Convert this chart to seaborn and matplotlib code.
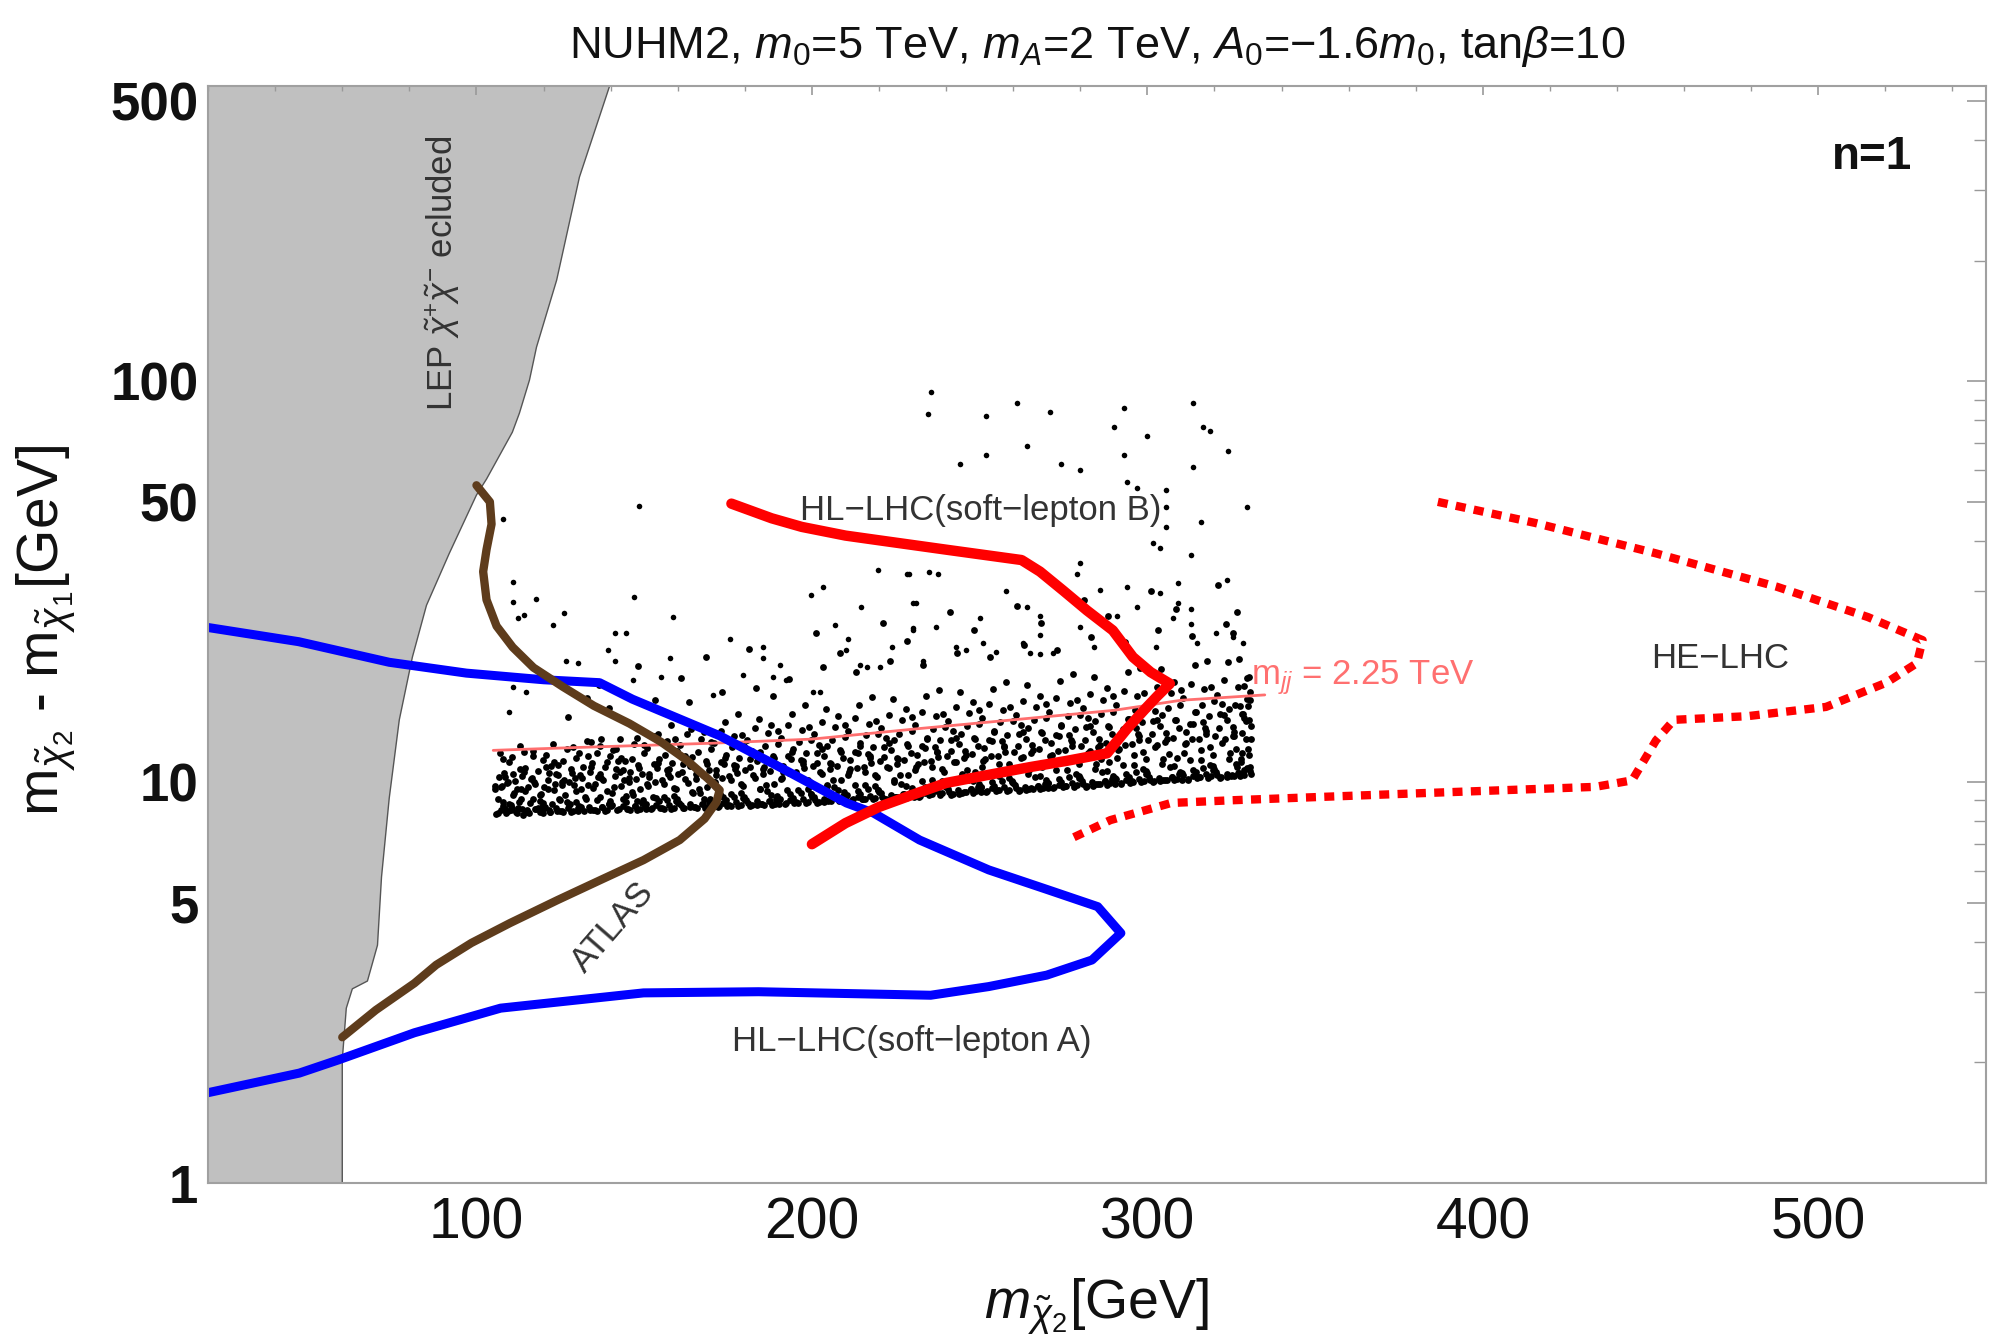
import matplotlib
matplotlib.use("Agg")
import matplotlib.pyplot as plt
import seaborn as sns
import pandas as pd
from matplotlib.ticker import FixedLocator, NullFormatter

# ---------------- data ----------------
x_major = [100, 200, 300, 400, 500]
x_minor = [20, 40, 60, 80, 120, 140, 160, 180, 220, 240, 260, 280, 320, 340, 360,
           380, 420, 440, 460, 480, 520, 540]
y_major = [1, 5, 10, 50, 100, 500]
y_tick_labels = ["1", "5", "10", "50", "100", "500"]
y_minor = [2, 3, 4, 6, 7, 8, 9, 20, 30, 40, 60, 70, 80, 90, 200, 300, 400]

# LEP excluded region boundary (bottom -> top)
lep_x = [60, 60, 61.2, 63, 67.5, 70.5, 71.7, 74, 77, 80.9, 85.1, 91.9, 100, 103, 110.7,
         112.8, 115.8, 117.9, 123.9, 130.7, 139.7]
lep_y = [1, 2.03, 2.73, 3.05, 3.19, 3.92, 5.8, 9.12, 14.3, 20.5, 27.6, 37.2, 52, 57, 74.6,
         83.2, 100.6, 121.6, 178.6, 323, 545]

# HL-LHC (soft-lepton A), blue
blue_x = [20, 47, 74, 97, 120, 136.7, 146.5, 172.5, 190.4, 210.3, 218.4, 232.1, 252.7, 270,
          285.2, 292.1, 283.5, 270, 252.7, 235.4, 184.1, 149.8, 107.2, 81.5, 59, 47.2, 20]
blue_y = [24.3, 22.4, 19.9, 18.7, 18.0, 17.7, 16.1, 13.05, 10.9, 8.87, 8.37, 7.17, 6.04, 5.4,
          4.89, 4.2, 3.6, 3.3, 3.09, 2.94, 3.0, 2.98, 2.73, 2.37, 2.03, 1.88, 1.68]

# ATLAS, brown
atlas_x = [100, 104, 104.5, 103, 102, 103, 106, 110.8, 117, 125.7, 135, 145.6, 155, 162.6,
           169, 172.5, 171.5, 168, 160.6, 149.8, 137, 124.2, 110, 98.5, 88, 81.5, 70, 60]
atlas_y = [55, 50, 44, 38, 33.5, 28.5, 24.5, 21.7, 19.3, 17.3, 15.5, 14.0, 12.6, 11.35,
           10.2, 9.55, 8.9, 8.1, 7.17, 6.39, 5.7, 5.08, 4.45, 3.97, 3.5, 3.15, 2.7, 2.31]

# HL-LHC (soft-lepton B), red
slb_x = [176, 188, 197, 210, 220, 240, 262.5, 268, 275, 282, 289.7, 295.7, 301, 306.7, 303,
         299.9, 294, 288, 276, 265, 252, 240, 230, 220, 210, 200]
slb_y = [49.5, 45.5, 43.3, 41.2, 40.1, 38.0, 35.8, 33.5, 30.0, 26.8, 23.9, 20.5, 18.8, 17.6,
         16.4, 15.4, 13.6, 11.8, 11.3, 10.9, 10.4, 9.95, 9.3, 8.67, 7.9, 7.0]

# HE-LHC, red dotted
he_x = [386.6, 415.6, 451.6, 487.7, 514.8, 531.1, 529.4, 520.3, 502.3, 478.8, 457, 451.6,
        444.5, 433.5, 379.5, 325.3, 307.1, 289, 276.3]
he_y = [50, 44.3, 37.2, 30.7, 25.8, 22.6, 19.8, 17.7, 15.4, 14.6, 14.3, 12.7, 10.1, 9.73,
        9.37, 9.01, 8.87, 8.04, 7.17]

# m_jj = 2.25 TeV contour, thin light red
mjj_x = [105, 130, 170, 200, 232, 260, 290, 310, 335]
mjj_y = [12.0, 12.2, 12.5, 12.8, 13.6, 14.3, 15.1, 16.0, 16.5]

# scan points: dense band
band_pts = [
 (106.5,8.35),(108,8.9),(109.5,8.45),(111,9.3),(112.5,8.6),(114,8.3),(107.2,9.7),(110.3,8.75),(113.4,9.05),(115,8.5),
 (106.8,10.3),(109,9.95),(111.8,8.4),(113,10.8),(114.6,9.5),(107.8,11.4),(110.8,10.5),(112.2,9.6),(108.6,8.55),(114.2,11.9),
 (115.5,8.4),(117,9.1),(118.4,8.6),(119.8,8.35),(121.2,9.6),(122.6,8.8),(124,8.45),(116.3,10.2),(117.8,8.55),(119.2,9.35),
 (120.6,10.9),(122,8.4),(123.4,9.9),(124.8,9.0),(116.8,11.6),(118.9,8.95),(121.5,8.5),(123,11.2),(120.1,9.75),(124.3,10.4),
 (125.4,8.45),(126.9,8.9),(128.3,8.4),(129.7,9.5),(131.1,8.65),(132.5,9.2),(133.9,8.5),(126.2,10.1),(127.6,8.75),(129,9.85),
 (130.4,8.45),(134.6,9.65),(131.8,10.9),(133.2,11.6),(125.9,11.3),(128.7,12.2),(130.9,10.4),(134.1,12.6),(127.3,14.5),(132.9,16.2),
 (135.3,8.5),(136.8,9.2),(138.2,8.45),(139.6,8.8),(141,9.7),(142.4,8.55),(143.8,9.1),(136.1,10.3),(137.5,8.65),(140.3,9.4),
 (142.9,10.6),(144.5,8.9),(138.9,11.2),(141.7,12.1),(135.8,11.8),(143.2,11.5),(137.2,12.8),(144.1,10.1),(139.4,15.3),(136.4,17.5),
 (145.2,8.55),(146.6,9.3),(148,8.5),(149.4,8.85),(150.8,9.9),(152.2,8.6),(153.6,9.15),(145.9,10.6),(147.3,8.7),(148.7,9.6),
 (151.5,10.3),(154.4,8.95),(146.4,11.4),(149.9,12.4),(152.8,11.1),(154.1,13.2),(147.8,12.9),(150.4,8.55),(153.1,16.0),(148.3,19.5),
 (155.3,8.6),(156.7,9.0),(158.1,8.55),(159.5,9.6),(160.9,8.75),(162.3,10.2),(163.7,8.65),(155.9,9.9),(157.4,10.8),(158.8,9.25),
 (161.6,8.6),(164.4,9.45),(156.2,11.7),(159.1,12.8),(162.9,11.4),(164.1,13.6),(157.9,13.9),(160.2,10.5),(163.3,15.8),(161.1,18.2),
 (165.2,8.65),(166.6,9.4),(168,8.6),(169.4,8.9),(170.8,10.0),(172.2,8.7),(173.6,9.2),(165.8,10.7),(167.3,8.8),(168.7,9.7),
 (171.5,10.4),(174.4,9.0),(166.1,11.9),(169.9,12.6),(172.8,11.2),(174.1,14.1),(167.9,13.3),(170.3,8.65),(173.2,16.8),(168.4,20.5),
 (175.3,8.75),(176.7,9.2),(178.1,8.7),(179.5,9.8),(180.9,8.85),(182.3,10.4),(183.7,8.75),(175.9,10.1),(177.4,11.0),(178.8,9.4),
 (181.6,8.7),(184.4,9.6),(176.2,12.2),(179.1,13.1),(182.9,11.8),(184.1,14.4),(177.9,14.8),(180.2,10.7),(183.3,17.2),(181.1,21.5),
 (185.2,8.8),(186.6,9.5),(188,8.75),(189.4,9.05),(190.8,10.2),(192.2,8.85),(193.6,9.35),(185.8,10.9),(187.3,8.95),(188.7,9.9),
 (191.5,10.6),(194.4,9.15),(186.1,12.3),(189.9,13.4),(192.8,11.6),(194.1,14.8),(187.9,13.9),(190.3,8.8),(193.2,18.1),(188.4,16.4),
 (195.3,8.9),(196.7,9.4),(198.1,8.85),(199.5,10.0),(200.9,9.0),(202.3,10.6),(203.7,8.9),(195.9,10.3),(197.4,11.3),(198.8,9.6),
 (201.6,8.85),(204.4,9.8),(196.2,12.6),(199.1,13.7),(202.9,12.1),(204.1,15.2),(197.9,15.6),(200.2,11.0),(203.3,19.4),(201.1,23.5),
 (205.2,9.0),(206.6,9.7),(208,8.95),(209.4,9.25),(210.8,10.4),(212.2,9.05),(213.6,9.5),(205.8,11.1),(207.3,9.15),(208.7,10.1),
 (211.5,10.8),(214.4,9.35),(206.1,12.7),(209.9,13.9),(212.8,11.9),(214.1,15.6),(207.9,14.6),(210.3,9.0),(213.2,18.8),(208.4,21.0),
 (215.3,9.1),(216.7,9.6),(218.1,9.05),(219.5,10.3),(220.9,9.2),(222.3,10.9),(223.7,9.1),(215.9,10.6),(217.4,11.6),(218.8,9.8),
 (221.6,9.05),(224.4,10.0),(216.2,13.1),(219.1,14.2),(222.9,12.5),(224.1,16.1),(217.9,16.3),(220.2,11.3),(223.3,20.1),(221.1,25.0),
 (225.2,9.2),(226.6,9.9),(228,9.15),(229.4,9.45),(230.8,10.7),(232.2,9.25),(233.6,9.75),(225.8,11.4),(227.3,9.35),(228.7,10.4),
 (231.5,11.1),(234.4,9.55),(226.1,13.2),(229.9,14.5),(232.8,12.3),(234.1,16.4),(227.9,15.2),(230.3,9.2),(233.2,19.6),(228.4,22.5),
 (235.3,9.35),(236.7,9.85),(238.1,9.3),(239.5,10.6),(240.9,9.45),(242.3,11.2),(243.7,9.35),(235.9,10.9),(237.4,11.9),(238.8,10.05),
 (241.6,9.3),(244.4,10.3),(236.2,13.6),(239.1,14.8),(242.9,12.9),(244.1,16.8),(237.9,17.0),(240.2,11.6),(243.3,21.0),(241.1,26.5),
 (245.2,9.45),(246.6,10.1),(248,9.4),(249.4,9.7),(250.8,10.9),(252.2,9.5),(253.6,10.0),(245.8,11.7),(247.3,9.6),(248.7,10.6),
 (251.5,11.4),(254.4,9.8),(246.1,13.8),(249.9,15.1),(252.8,12.7),(254.1,17.1),(247.9,15.8),(250.3,9.45),(253.2,20.5),(248.4,24.0),
 (255.3,9.55),(256.7,10.05),(258.1,9.5),(259.5,10.8),(260.9,9.65),(262.3,11.5),(263.7,9.55),(255.9,11.1),(257.4,12.2),(258.8,10.25),
 (261.6,9.5),(264.4,10.5),(256.2,14.1),(259.1,15.4),(262.9,13.3),(264.1,17.5),(257.9,17.8),(260.2,11.9),(263.3,22.0),(261.1,27.5),
 (265.2,9.65),(266.6,10.3),(268,9.6),(269.4,9.9),(270.8,11.2),(272.2,9.7),(273.6,10.2),(265.8,12.0),(267.3,9.8),(268.7,10.9),
 (271.5,11.7),(274.4,10.0),(266.1,14.3),(269.9,15.7),(272.8,13.1),(274.1,17.9),(267.9,16.4),(270.3,9.65),(273.2,21.4),(268.4,25.0),
 (275.3,9.8),(276.7,10.3),(278.1,9.75),(279.5,11.1),(280.9,9.9),(282.3,11.8),(283.7,9.8),(275.9,11.4),(277.4,12.6),(278.8,10.5),
 (281.6,9.75),(284.4,10.8),(276.2,14.6),(279.1,16.0),(282.9,13.8),(284.1,18.3),(277.9,18.6),(280.2,12.3),(283.3,23.0),(281.1,28.5),
 (285.2,9.9),(286.6,10.6),(288,9.85),(289.4,10.2),(290.8,11.5),(292.2,9.95),(293.6,10.5),(285.8,12.4),(287.3,10.05),(288.7,11.2),
 (291.5,12.1),(294.4,10.3),(286.1,14.8),(289.9,16.4),(292.8,13.6),(294.1,18.8),(287.9,17.2),(290.3,9.9),(293.2,22.3),(288.4,26.0),
 (295.3,10.05),(296.7,10.6),(298.1,10.0),(299.5,11.4),(300.9,10.15),(302.3,12.2),(303.7,10.05),(295.9,11.7),(297.4,13.0),(298.8,10.8),
 (301.6,10.0),(304.4,11.1),(296.2,15.1),(299.1,16.7),(302.9,14.3),(304.1,19.2),(297.9,19.3),(300.2,12.7),(303.3,24.0),(301.1,30.0),
 (305.2,10.15),(306.6,10.9),(308,10.1),(309.4,10.45),(310.8,11.8),(312.2,10.2),(313.6,10.75),(305.8,12.8),(307.3,10.3),(308.7,11.5),
 (311.5,12.5),(314.4,10.6),(306.1,15.3),(309.9,17.0),(312.8,14.0),(314.1,19.6),(307.9,17.8),(310.3,10.15),(313.2,23.1),(308.4,27.0),
 (315.3,10.3),(316.7,10.85),(318.1,10.25),(319.5,11.7),(320.9,10.4),(322.3,12.5),(323.7,10.3),(315.9,12.0),(317.4,13.4),(318.8,11.05),
 (321.6,10.25),(324.4,11.4),(316.2,15.6),(319.1,17.3),(322.9,14.7),(324.1,19.9),(317.9,20.0),(320.2,13.0),(323.3,24.8),(321.1,31.0),
 (325.2,10.4),(326.4,11.1),(327.6,10.35),(328.8,10.7),(330,12.1),(330.8,10.45),(325.8,13.0),(327.1,10.55),(328.3,11.8),(329.5,12.8),
 (330.5,10.9),(326.1,15.6),(328.9,17.4),(330.2,14.3),(327.4,20.3),(329.7,18.2),(325.5,23.5),(330.6,16.0),(326.8,26.5),(328.0,11.4),
]

# scan points: lower edge of the band (very dense)
edge_pts = [
 (105.8,8.33),(107.4,8.5),(108.9,8.38),(110.5,8.62),(112,8.35),(113.6,8.55),(114.8,8.42),(109.7,8.8),
 (115.8,8.38),(117.4,8.55),(118.9,8.42),(120.5,8.68),(122,8.4),(123.6,8.6),(124.8,8.47),(119.7,8.85),
 (125.8,8.43),(127.4,8.6),(128.9,8.48),(130.5,8.72),(132,8.45),(133.6,8.65),(134.8,8.52),(129.7,8.9),
 (135.8,8.48),(137.4,8.65),(138.9,8.53),(140.5,8.77),(142,8.5),(143.6,8.7),(144.8,8.57),(139.7,8.95),
 (145.8,8.53),(147.4,8.7),(148.9,8.58),(150.5,8.82),(152,8.55),(153.6,8.75),(154.8,8.62),(149.7,9.0),
 (155.8,8.58),(157.4,8.75),(158.9,8.63),(160.5,8.87),(162,8.6),(163.6,8.8),(164.8,8.67),(159.7,9.05),
 (165.8,8.63),(167.4,8.8),(168.9,8.68),(170.5,8.92),(172,8.65),(173.6,8.85),(174.8,8.72),(169.7,9.1),
 (175.8,8.73),(177.4,8.9),(178.9,8.78),(180.5,9.02),(182,8.75),(183.6,8.95),(184.8,8.82),(179.7,9.2),
 (185.8,8.78),(187.4,8.95),(188.9,8.83),(190.5,9.07),(192,8.8),(193.6,9.0),(194.8,8.87),(189.7,9.25),
 (195.8,8.88),(197.4,9.05),(198.9,8.93),(200.5,9.17),(202,8.9),(203.6,9.1),(204.8,8.97),(199.7,9.35),
 (205.8,8.98),(207.4,9.15),(208.9,9.03),(210.5,9.27),(212,9.0),(213.6,9.2),(214.8,9.07),(209.7,9.45),
 (215.8,9.08),(217.4,9.25),(218.9,9.13),(220.5,9.37),(222,9.1),(223.6,9.3),(224.8,9.17),(219.7,9.55),
 (225.8,9.18),(227.4,9.35),(228.9,9.23),(230.5,9.47),(232,9.2),(233.6,9.4),(234.8,9.27),(229.7,9.65),
 (235.8,9.33),(237.4,9.5),(238.9,9.38),(240.5,9.62),(242,9.35),(243.6,9.55),(244.8,9.42),(239.7,9.8),
 (245.8,9.43),(247.4,9.6),(248.9,9.48),(250.5,9.72),(252,9.45),(253.6,9.65),(254.8,9.52),(249.7,9.9),
 (255.8,9.53),(257.4,9.7),(258.9,9.58),(260.5,9.82),(262,9.55),(263.6,9.75),(264.8,9.62),(259.7,10.0),
 (265.8,9.63),(267.4,9.8),(268.9,9.68),(270.5,9.92),(272,9.65),(273.6,9.85),(274.8,9.72),(269.7,10.1),
 (275.8,9.78),(277.4,9.95),(278.9,9.83),(280.5,10.07),(282,9.8),(283.6,10.0),(284.8,9.87),(279.7,10.25),
 (285.8,9.88),(287.4,10.05),(288.9,9.93),(290.5,10.17),(292,9.9),(293.6,10.1),(294.8,9.97),(289.7,10.35),
 (295.8,10.03),(297.4,10.2),(298.9,10.08),(300.5,10.32),(302,10.05),(303.6,10.25),(304.8,10.12),(299.7,10.5),
 (305.8,10.13),(307.4,10.3),(308.9,10.18),(310.5,10.42),(312,10.15),(313.6,10.35),(314.8,10.22),(309.7,10.6),
 (315.8,10.28),(317.4,10.45),(318.9,10.33),(320.5,10.57),(322,10.3),(323.6,10.5),(324.8,10.37),(319.7,10.75),
 (325.8,10.38),(327.4,10.55),(328.9,10.43),(330.5,10.67),(326.6,10.9),(329.7,10.85),
]

# scan points: middle of the band
mid_pts = [
 (106.3,9.09),(107.9,8.70),(109.4,10.0),(111.1,9.40),(112.7,8.90),(114.2,10.6),(105.5,9.79),(110.3,8.50),(113.3,9.60),(108.6,10.29),
 (115.9,8.87),(117.2,10.0),(118.8,9.30),(120.0,8.61),(121.6,10.51),(123.0,9.56),(124.6,9.08),(116.7,10.21),(119.6,8.69),(122.2,10.95),
 (126.3,9.26),(127.9,8.83),(129.4,10.25),(131.1,9.60),(132.7,9.05),(134.2,10.89),(125.5,10.02),(130.3,8.62),(133.3,9.81),(128.6,10.56),
 (135.9,9.01),(137.2,10.23),(138.8,9.48),(140.0,8.73),(141.6,10.79),(143.0,9.76),(144.6,9.24),(136.7,10.46),(139.6,8.82),(142.2,11.26),
 (146.3,9.43),(147.9,8.97),(149.4,10.5),(151.1,9.79),(152.7,9.2),(154.2,11.19),(145.5,10.25),(150.3,8.73),(153.3,10.03),(148.6,10.84),
 (155.9,9.16),(157.2,10.47),(158.8,9.66),(160.0,8.85),(161.6,11.08),(163.0,9.96),(164.6,9.41),(156.7,10.72),(159.6,8.95),(162.2,11.59),
 (166.3,9.6),(167.9,9.1),(169.4,10.75),(171.1,9.99),(172.7,9.36),(174.2,11.5),(165.5,10.48),(170.3,8.85),(173.3,10.24),(168.6,11.11),
 (175.9,9.35),(177.2,10.77),(178.8,9.9),(180.0,9.03),(181.6,11.43),(183.0,10.23),(184.6,9.63),(176.7,11.05),(179.6,9.14),(182.2,11.98),
 (186.3,9.83),(187.9,9.29),(189.4,11.07),(191.1,10.25),(192.7,9.56),(194.2,11.88),(185.5,10.78),(190.3,9.02),(193.3,10.53),(188.6,11.46),
 (195.9,9.56),(197.2,11.08),(198.8,10.14),(200.0,9.2),(201.6,11.79),(203.0,10.5),(204.6,9.85),(196.7,11.37),(199.6,9.32),(202.2,12.37),
 (206.3,10.11),(207.9,9.53),(209.4,11.46),(211.1,10.57),(212.7,9.83),(214.2,12.33),(205.5,11.15),(210.3,9.25),(213.3,10.87),(208.6,11.88),
 (215.9,9.81),(217.2,11.46),(218.8,10.44),(220.0,9.43),(221.6,12.22),(223.0,10.82),(224.6,10.13),(216.7,11.77),(219.6,9.56),(222.2,12.85),
 (226.3,10.39),(227.9,9.78),(229.4,11.84),(231.1,10.9),(232.7,10.09),(234.2,12.79),(225.5,11.51),(230.3,9.46),(233.3,11.21),(228.6,12.31),
 (235.9,10.12),(237.2,11.9),(238.8,10.81),(240.0,9.71),(241.6,12.72),(243.0,11.22),(244.6,10.46),(236.7,12.25),(239.6,9.85),(242.2,13.41),
 (246.3,10.74),(247.9,10.08),(249.4,12.3),(251.1,11.29),(252.7,10.42),(254.2,13.33),(245.5,11.96),(250.3,9.74),(253.3,11.63),(248.6,12.8),
 (255.9,10.38),(257.2,12.29),(258.8,11.12),(260.0,9.94),(261.6,13.17),(263.0,11.55),(264.6,10.74),(256.7,12.65),(259.6,10.09),(262.2,13.91),
 (266.3,11.04),(267.9,10.33),(269.4,12.71),(271.1,11.62),(272.7,10.69),(274.2,13.8),(265.5,12.34),(270.3,9.96),(273.3,11.98),(268.6,13.25),
 (275.9,10.7),(277.2,12.74),(278.8,11.49),(280.0,10.23),(281.6,13.7),(283.0,11.96),(284.6,11.1),(276.7,13.14),(279.6,10.38),(282.2,14.48),
 (286.3,11.4),(287.9,10.63),(289.4,13.19),(291.1,12.02),(292.7,11.02),(294.2,14.36),(285.5,12.79),(290.3,10.24),(293.3,12.41),(288.6,13.76),
 (295.9,11.01),(297.2,13.21),(298.8,11.86),(300.0,10.51),(301.6,14.23),(303.0,12.37),(304.6,11.44),(296.7,13.64),(299.6,10.68),(302.2,15.07),
 (306.3,11.76),(307.9,10.94),(309.4,13.68),(311.1,12.42),(312.7,11.35),(314.2,14.93),(305.5,13.24),(310.3,10.51),(313.3,12.84),(308.6,14.28),
 (315.9,11.34),(317.2,13.68),(318.8,12.24),(320.0,10.79),(321.6,14.77),(323.0,12.78),(324.6,11.79),(316.7,14.13),(319.6,10.98),(322.2,15.67),
 (326.3,12.12),(327.9,11.24),(329.4,14.17),(331.0,12.82),(330.2,11.7),(329.9,15.51),(325.5,13.7),(330.3,10.8),(328.3,13.28),(328.6,14.82),
]

# scan points: upper part of the band
upper_pts = [
 (105.4,9.63),(106.9,11.79),(108.3,10.54),(109.8,11.21),(111.4,10.04),(112.9,12.28),(114.4,10.87),(107.6,9.79),(110.7,11.54),(113.7,10.38),
 (115.4,9.72),(116.9,11.95),(118.3,10.66),(119.8,11.35),(121.4,10.15),(122.9,12.47),(124.4,11.01),(117.6,9.89),(120.7,11.70),(123.7,10.50),
 (125.4,9.82),(126.9,12.12),(128.3,10.79),(129.8,11.5),(131.4,10.26),(132.9,12.65),(134.4,11.15),(127.6,10.0),(130.7,11.85),(133.7,10.62),
 (135.4,9.91),(136.9,12.29),(138.3,10.92),(139.8,11.65),(141.4,10.37),(142.9,12.84),(144.4,11.28),(137.6,10.1),(140.7,12.02),(143.7,10.74),
 (145.4,10.0),(146.9,12.46),(148.3,11.04),(149.8,11.8),(151.4,10.48),(152.9,13.02),(154.4,11.42),(147.6,10.2),(150.7,12.18),(153.7,10.85),
 (155.4,10.11),(156.9,12.63),(158.3,11.17),(159.8,11.95),(161.4,10.59),(162.9,13.21),(164.4,11.56),(157.6,10.29),(160.7,12.34),(163.7,10.98),
 (165.4,10.2),(166.9,12.81),(168.3,11.3),(169.8,12.1),(171.4,10.7),(172.9,13.41),(174.4,11.7),(167.6,10.41),(170.7,12.5),(173.7,11.1),
 (175.4,10.36),(176.9,13.05),(178.3,11.5),(179.8,12.33),(181.4,10.88),(182.9,13.68),(184.4,11.91),(177.6,10.56),(180.7,12.74),(183.7,11.29),
 (185.4,10.46),(186.9,13.23),(188.3,11.63),(189.8,12.48),(191.4,10.99),(192.9,13.87),(194.4,12.06),(187.6,10.67),(190.7,12.91),(193.7,11.42),
 (195.4,10.61),(196.9,13.48),(198.3,11.82),(199.8,12.71),(201.4,11.16),(202.9,14.14),(204.4,12.27),(197.6,10.83),(200.7,13.15),(203.7,11.6),
 (205.4,10.78),(206.9,13.74),(208.3,12.03),(209.8,12.94),(211.4,11.34),(212.9,14.42),(214.4,12.49),(207.6,11.0),(210.7,13.39),(213.7,11.8),
 (215.4,10.93),(216.9,13.99),(218.3,12.23),(219.8,13.17),(221.4,11.52),(222.9,14.7),(224.4,12.7),(217.6,11.17),(220.7,13.64),(223.7,11.99),
 (225.4,11.09),(226.9,14.25),(228.3,12.43),(229.8,13.4),(231.4,11.7),(232.9,14.98),(234.4,12.91),(227.6,11.34),(230.7,13.89),(233.7,12.19),
 (235.4,11.32),(236.9,14.59),(238.3,12.7),(239.8,13.71),(241.4,11.95),(242.9,15.35),(244.4,13.21),(237.6,11.57),(240.7,14.21),(243.7,12.45),
 (245.4,11.48),(246.9,14.85),(248.3,12.91),(249.8,13.95),(251.4,12.13),(252.9,15.63),(254.4,13.42),(247.6,11.74),(250.7,14.47),(253.7,12.65),
 (255.4,11.64),(256.9,15.12),(258.3,13.11),(259.8,14.18),(261.4,12.31),(262.9,15.92),(264.4,13.65),(257.6,11.91),(260.7,14.73),(263.7,12.84),
 (265.4,11.81),(266.9,15.39),(268.3,13.32),(269.8,14.43),(271.4,12.5),(272.9,16.21),(274.4,13.87),(267.6,12.08),(270.7,14.98),(273.7,13.05),
 (275.4,12.03),(276.9,15.75),(278.3,13.6),(279.8,14.74),(281.4,12.74),(282.9,16.6),(284.4,14.18),(277.6,12.31),(280.7,15.32),(283.7,13.32),
 (285.4,12.2),(286.9,16.02),(288.3,13.82),(289.8,14.99),(291.4,12.93),(292.9,16.9),(294.4,14.4),(287.6,12.49),(290.7,15.57),(293.7,13.52),
 (295.4,12.43),(296.9,16.38),(298.3,14.1),(299.8,15.31),(301.4,13.19),(302.9,17.29),(304.4,14.71),(297.6,12.73),(300.7,15.92),(303.7,13.8),
 (305.4,12.59),(306.9,16.66),(308.3,14.31),(309.8,15.56),(311.4,13.37),(312.9,17.59),(314.4,14.94),(307.6,12.91),(310.7,16.19),(313.7,14.0),
 (315.4,12.83),(316.9,17.03),(318.3,14.61),(319.8,15.9),(321.4,13.63),(322.9,17.99),(324.4,15.25),(317.6,13.15),(320.7,16.53),(323.7,14.28),
 (325.4,13.0),(326.9,17.31),(328.3,14.82),(329.8,16.15),(331.0,13.83),(330.4,18.3),(327.6,15.48),(325.9,13.33),(330.7,16.81),(328.7,14.49),
]

# scan points: sparse ones above the band
sparse_pts = [
 (235.6,94),(234.6,83),(252,82),(261,88),(271,84),(293,85.5),(290,77),(313.7,88),(316.6,77),(318.6,75),
 (300,73),(324,67),(264,69),(252,65.4),(244,62),(274.4,62),(280,60),(293,65.4),(313.7,61),(294,56),
 (297,54),(305.7,53.5),(305.7,48.6),(305.7,43.3),(316,44.6),(329.6,48.6),(301.7,39.4),(303.7,38.3),(313,36.8),(280,35.1),
 (279,33.1),(323.6,31.9),(229,33.1),(235,33.4),(237.6,33.1),(258,29.9),(285.8,30.1),(293.8,30.6),(303.7,29.6),(309,31.3),
 (231,27.9),(264,27.4),(296.8,27.4),(309,27.9),(313,27.1),(250,25.6),(268,25.9),(268,23.3),(268,20.9),(230,24.2),
 (237,24.4),(280,24.4),(291,25.9),(307.7,25.6),(313,24.8),(320.6,23.5),(325.6,23),(328.6,22.2),(243,21.7),(246,21.3),
 (224,21.7),(251,22.2),(255,21.1),(263,22.2),(265,21),(272,21),(284,21.7),(302.7,21.7),(314.7,22.2),(233,20.1),
 (107.8,45.4),(148.6,48.9),(110.8,31.6),(110.8,28.2),(117.8,28.7),(112.3,25.6),(114.3,26.1),(126.2,26.4),(122.8,24.7),(147.1,29),
 (158.6,25.8),(141.2,23.5),(144.7,23.5),(139.2,21.3),(141.2,20),(126.8,20),(130.2,19.8),(157.6,20.4),(175.5,22.8),(185.4,21.7),
 (185.4,20.4),(110.8,17.3),(114.8,16.8),(109.8,15),(146.6,18),(155.1,18.3),(179.5,18.5),(188.4,18.3),(192.4,18),(190.4,19.6),
 (200.3,16.8),(202.3,16.8),(170.5,16.5),(210.3,21.3),(214.3,19.6),(216.3,19.4),(220.2,19.4),(206.8,24.7),(210.8,22.8),(214.7,27.4),
 (199.8,29.3),(203.3,30.6),(219.7,33.8),(228.2,33.1),(230.2,27.9),(230.2,23.9),
]

title_text = r"NUHM2, $m_0$=5 TeV, $m_A$=2 TeV, $A_0$=−1.6$m_0$, tan$\beta$=10"

# ---------------- style ----------------
sns.set_style("white")
plt.rcParams["font.family"] = ["Liberation Sans", "DejaVu Sans"]
plt.rcParams["mathtext.fontset"] = "custom"
plt.rcParams["mathtext.rm"] = "Liberation Sans"
plt.rcParams["mathtext.it"] = "Liberation Sans:italic"
plt.rcParams["mathtext.bf"] = "Liberation Sans:bold"
plt.rcParams["axes.unicode_minus"] = True

fig = plt.figure(figsize=(19.97, 13.39), dpi=100)
ax = fig.add_axes([0.1042, 0.1165, 0.8903, 0.8193])
ax.set_yscale("log")
ax.set_xlim(20, 550)
ax.set_ylim(1, 545)

# LEP excluded region
poly_x = [20] + lep_x + [20]
poly_y = [1] + lep_y + [545]
ax.fill(poly_x, poly_y, color="#c0c0c0", zorder=0.5, lw=0)
sns.lineplot(x=lep_x, y=lep_y, sort=False, estimator=None, color="#555555",
             linewidth=1.0, ax=ax, zorder=0.6)

# scan points
dense = pd.DataFrame(band_pts + edge_pts + mid_pts + upper_pts, columns=["m", "dm"])
sparse = pd.DataFrame(sparse_pts, columns=["m", "dm"])
sns.scatterplot(data=dense, x="m", y="dm", color="black", s=24, linewidth=0,
                marker="o", ax=ax, zorder=1.5)
sns.scatterplot(data=sparse, x="m", y="dm", color="black", s=16, linewidth=0,
                marker="o", ax=ax, zorder=1.5)

# contours
sns.lineplot(x=mjj_x, y=mjj_y, sort=False, estimator=None, color="#ff6f6f",
             linewidth=2.0, ax=ax, zorder=2.2)
sns.lineplot(x=blue_x, y=blue_y, sort=False, estimator=None, color="#0000ff",
             linewidth=6.5, ax=ax, zorder=2.5)
sns.lineplot(x=atlas_x, y=atlas_y, sort=False, estimator=None, color="#5e3c1c",
             linewidth=6.0, ax=ax, zorder=2.6)
sns.lineplot(x=slb_x, y=slb_y, sort=False, estimator=None, color="#ff0000",
             linewidth=7.5, ax=ax, zorder=2.7)
sns.lineplot(x=he_x, y=he_y, sort=False, estimator=None, color="#ff0000",
             linewidth=6.0, ax=ax, zorder=2.7)
ax.lines[-1].set_linestyle((0, (1.2, 1.0)))
ax.lines[-1].set_dash_capstyle("butt")

# annotations
txt_col = "#333333"
ax.text(250.3, 47.7, "HL−LHC(soft−lepton B)", fontsize=25, color=txt_col,
        ha="center", va="center", zorder=4)
ax.text(229.8, 2.25, "HL−LHC(soft−lepton A)", fontsize=25, color=txt_col,
        ha="center", va="center", zorder=4)
ax.text(140.6, 4.35, "ATLAS", fontsize=25, color=txt_col, rotation=49,
        ha="center", va="center", zorder=4)
ax.text(470.8, 20.3, "HE−LHC", fontsize=25, color=txt_col,
        ha="center", va="center", zorder=4)
ax.text(331, 18.2, r"m$_{jj}$ = 2.25 TeV", fontsize=25, color="#ff7070",
        ha="left", va="center", zorder=4)
ax.text(89.9, 186, r"LEP $\tilde{\chi}^{+}\tilde{\chi}^{-}$ ecluded", fontsize=25,
        color=txt_col, rotation=90, ha="center", va="center", zorder=4)
ax.text(516, 362, "n=1", fontsize=33, fontweight="bold", color="#111111",
        ha="center", va="center", zorder=4)

# axes, ticks
for sp in ax.spines.values():
    sp.set_color("#a0a0a0")
    sp.set_linewidth(1.5)
ax.xaxis.set_major_locator(FixedLocator(x_major))
ax.xaxis.set_minor_locator(FixedLocator(x_minor))
ax.set_xticklabels([str(v) for v in x_major])
ax.yaxis.set_major_locator(FixedLocator(y_major))
ax.yaxis.set_minor_locator(FixedLocator(y_minor))
ax.yaxis.set_minor_formatter(NullFormatter())
ax.set_yticklabels(y_tick_labels, fontweight="bold")

ax.tick_params(axis="x", which="major", direction="in", length=6.5, width=1.2,
               color="#999999", top=True, labelsize=41, pad=10, labelcolor="#111111")
ax.tick_params(axis="x", which="minor", direction="in", length=3.6, width=1.0,
               color="#999999", top=True)
ax.tick_params(axis="y", which="major", direction="in", length=14, width=1.2,
               color="#999999", right=True, labelsize=38, pad=7, labelcolor="#111111")
ax.tick_params(axis="y", which="minor", direction="in", length=9, width=1.0,
               color="#999999", right=True)

ax.set_xlabel(r"$m_{\tilde{\chi}_2}$[GeV]", fontsize=40, color="#111111")
ax.xaxis.set_label_coords(0.5, -0.085)
ax.set_ylabel(r"m$_{\tilde{\chi}_2}$ - m$_{\tilde{\chi}_1}$[GeV]", fontsize=41, color="#111111")
ax.yaxis.set_label_coords(-0.074, 0.504)
ax.set_title(title_text, fontsize=32.5, pad=20, color="#111111")

fig.savefig("out.png", dpi=100)
